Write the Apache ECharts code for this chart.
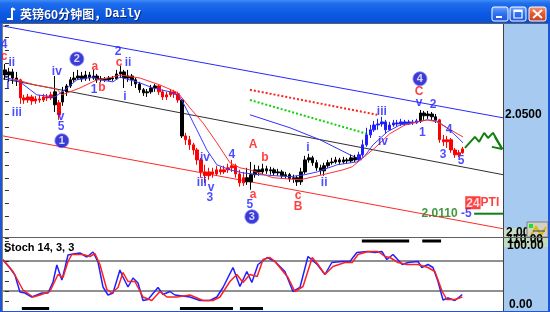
<!DOCTYPE html>
<html><head><meta charset="utf-8">
<script src="https://cdn.jsdelivr.net/npm/echarts@6.0.0/dist/echarts.min.js"></script>
<style>html,body{margin:0;padding:0;background:#1E56D6;}#c{width:550px;height:312px;}</style>
</head><body><div id="c"></div>
<script>
// ---------- DATA ----------
const hourSlots = Array.from({length:130}, (_, i) => 'H' + i);

const openP = [2.0674,2.0654,2.0666,2.0642,2.0635,2.0564,2.0556,2.0568,2.0552,2.0560,
2.0556,2.0568,2.0564,2.0588,2.0545,2.0548,2.0588,2.0611,2.0635,2.0642,
2.0650,2.0639,2.0654,2.0642,2.0650,2.0635,2.0639,2.0635,2.0642,2.0639,
2.0658,2.0666,2.0642,2.0650,2.0635,2.0619,2.0596,2.0584,2.0588,2.0603,
2.0611,2.0588,2.0568,2.0576,2.0588,2.0580,2.0556,2.0415,2.0400,2.0380,
2.0360,2.0321,2.0274,2.0259,2.0274,2.0266,2.0282,2.0274,2.0282,2.0290,
2.0298,2.0266,2.0231,2.0251,2.0235,2.0263,2.0282,2.0274,2.0286,2.0278,
2.0282,2.0270,2.0274,2.0259,2.0263,2.0247,2.0251,2.0235,2.0274,2.0321,
2.0329,2.0310,2.0290,2.0278,2.0298,2.0310,2.0313,2.0321,2.0313,2.0321,
2.0317,2.0329,2.0321,2.0341,2.0380,2.0419,2.0439,2.0458,2.0462,2.0470,
2.0439,2.0458,2.0466,2.0462,2.0470,2.0462,2.0470,2.0466,2.0474,2.0505,
2.0494,2.0501,2.0490,2.0478,2.0400,2.0392,2.0400,2.0360,2.0341,2.0349];
const closeP = [2.0654,2.0666,2.0642,2.0635,2.0564,2.0556,2.0568,2.0552,2.0560,2.0556,
2.0568,2.0564,2.0576,2.0537,2.0498,2.0588,2.0611,2.0635,2.0642,2.0650,
2.0639,2.0654,2.0642,2.0650,2.0635,2.0639,2.0635,2.0642,2.0639,2.0658,
2.0666,2.0642,2.0650,2.0635,2.0619,2.0596,2.0584,2.0588,2.0603,2.0611,
2.0588,2.0568,2.0576,2.0588,2.0580,2.0556,2.0415,2.0400,2.0380,2.0360,
2.0321,2.0274,2.0259,2.0274,2.0266,2.0282,2.0274,2.0282,2.0290,2.0298,
2.0266,2.0231,2.0251,2.0235,2.0263,2.0282,2.0274,2.0286,2.0278,2.0282,
2.0270,2.0274,2.0259,2.0263,2.0247,2.0251,2.0235,2.0274,2.0321,2.0329,
2.0310,2.0290,2.0278,2.0298,2.0310,2.0313,2.0321,2.0313,2.0321,2.0317,
2.0329,2.0321,2.0341,2.0380,2.0419,2.0439,2.0458,2.0462,2.0470,2.0439,
2.0458,2.0466,2.0462,2.0470,2.0462,2.0470,2.0466,2.0474,2.0505,2.0494,
2.0501,2.0490,2.0478,2.0400,2.0392,2.0400,2.0360,2.0341,2.0349,2.0364];
const lowP = [2.0635,2.0627,2.0619,2.0611,2.0541,2.0541,2.0545,2.0537,2.0541,2.0545,
2.0548,2.0552,2.0556,2.0509,2.0478,2.0533,2.0572,2.0603,2.0627,2.0635,
2.0627,2.0631,2.0631,2.0635,2.0623,2.0627,2.0627,2.0631,2.0631,2.0635,
2.0642,2.0603,2.0627,2.0611,2.0603,2.0584,2.0572,2.0568,2.0580,2.0588,
2.0576,2.0556,2.0556,2.0568,2.0564,2.0545,2.0407,2.0380,2.0360,2.0341,
2.0302,2.0251,2.0231,2.0243,2.0251,2.0259,2.0263,2.0266,2.0270,2.0274,
2.0251,2.0216,2.0219,2.0223,2.0204,2.0251,2.0259,2.0263,2.0266,2.0263,
2.0259,2.0259,2.0247,2.0247,2.0235,2.0231,2.0219,2.0223,2.0266,2.0310,
2.0298,2.0278,2.0263,2.0259,2.0290,2.0302,2.0306,2.0302,2.0306,2.0306,
2.0310,2.0313,2.0313,2.0333,2.0372,2.0407,2.0431,2.0439,2.0451,2.0423,
2.0435,2.0451,2.0451,2.0454,2.0454,2.0458,2.0458,2.0462,2.0466,2.0478,
2.0482,2.0478,2.0466,2.0388,2.0376,2.0368,2.0349,2.0329,2.0333,2.0345];
const highP = [2.0697,2.0682,2.0678,2.0666,2.0639,2.0576,2.0580,2.0576,2.0572,2.0576,
2.0580,2.0580,2.0588,2.0650,2.0556,2.0607,2.0619,2.0646,2.0666,2.0674,
2.0666,2.0670,2.0666,2.0674,2.0658,2.0650,2.0646,2.0650,2.0650,2.0674,
2.0690,2.0674,2.0674,2.0658,2.0642,2.0627,2.0603,2.0599,2.0615,2.0619,
2.0615,2.0596,2.0588,2.0599,2.0596,2.0588,2.0560,2.0427,2.0415,2.0388,
2.0368,2.0329,2.0302,2.0290,2.0290,2.0298,2.0294,2.0298,2.0306,2.0321,
2.0306,2.0282,2.0274,2.0290,2.0313,2.0302,2.0298,2.0306,2.0298,2.0294,
2.0290,2.0286,2.0282,2.0274,2.0270,2.0263,2.0259,2.0290,2.0337,2.0345,
2.0337,2.0321,2.0302,2.0310,2.0321,2.0329,2.0333,2.0329,2.0333,2.0329,
2.0341,2.0341,2.0353,2.0400,2.0447,2.0458,2.0474,2.0482,2.0490,2.0478,
2.0470,2.0478,2.0478,2.0482,2.0478,2.0478,2.0478,2.0482,2.0517,2.0513,
2.0513,2.0509,2.0501,2.0482,2.0419,2.0415,2.0407,2.0368,2.0360,2.0372];

// moving averages [bar, price]
const fastMA = [[0,2.0646],[3.9,2.0627],[8.3,2.0576],[13,2.0568],[15.6,2.0596],[18.7,2.0635],[22.9,2.0646],[24.7,2.0635],[28.1,2.0627],[29.9,2.0646],[35.1,2.0623],[38.5,2.0603],[42.9,2.0588],[45.5,2.0568],[47.3,2.0517],[49.9,2.0439],[52.5,2.0360],[55.1,2.0302],[58.5,2.0282],[61.9,2.0270],[66.3,2.0263],[74.1,2.0255],[78,2.0263],[81.2,2.0274],[86.4,2.0302],[91.5,2.0313],[93.6,2.0337],[95.7,2.0380],[99.4,2.0431],[102.7,2.0458],[107.1,2.0470],[109.8,2.0478],[112.3,2.0474],[114.9,2.0447],[117,2.0419],[119.1,2.0388]];
const slowMA = [[2.1,2.0639],[7.8,2.0615],[13.5,2.0599],[14.8,2.0576],[19.5,2.0603],[23.9,2.0635],[28.1,2.0646],[29.9,2.0654],[35.1,2.0642],[40.3,2.0615],[45,2.0584],[48.1,2.0525],[51.5,2.0466],[55.1,2.0388],[58.5,2.0310],[61.1,2.0290],[63.7,2.0282],[69.7,2.0251],[76.7,2.0243],[82.7,2.0263],[87.9,2.0282],[90.3,2.0294],[96.2,2.0368],[100,2.0423],[104,2.0458],[109.8,2.0478],[112.3,2.0470],[114.9,2.0447],[119.1,2.0411]];
const redLongMA = [[63.7,2.0596],[96.8,2.0498]];
const greenLongMA = [[63.7,2.0556],[94.2,2.0423]];
const blueLongMA = [[63.7,2.0498],[74.1,2.0447],[81.9,2.0400],[89.7,2.0341],[92.8,2.0321]];

// channel lines [bar, price]
const upperChannel = [[-0.5,2.0846],[129.5,2.0486]];
const midChannel = [[-0.5,2.0639],[129.5,2.0263]];
const lowerChannel = [[-0.5,2.0415],[129.5,2.0051]];

// projected path
const forecastPath = [[119.6,2.0368],[122.2,2.0411],[123.3,2.0392],[124.6,2.0427],[125.6,2.0407],[126.9,2.0427],[129.3,2.0364]];
const forecastArrow = [[126.6,2.0372],[129.3,2.0364],[127.4,2.0411]];
const targetPrice = 2.0110;
const targetFromBar = 122;

// wave labels [text, bar, price]
const blueWaveLabels = [['4',-0.2,2.0772],['i',0.8,2.0615],['ii',1.8,2.0701],['iii',3.1,2.0505],['iv',13.5,2.0666],['v',14.6,2.0490],['5',14.6,2.0451],['1',23.2,2.0596],['2',29.4,2.0744],['ii',32.0,2.0701],['i',31.2,2.0568],['iv',52.0,2.0329],['iii',51.2,2.0231],['v',53.6,2.0212],['3',53.3,2.0172],['4',59.0,2.0341],['5',63.7,2.0145],['i',78.8,2.0368],['ii',83.0,2.0231],['iii',98.0,2.0509],['iv',98.3,2.0392],['v',107.7,2.0545],['2',111.3,2.0537],['1',108.5,2.0427],['4',115.5,2.0439],['3',113.9,2.0341],['5',118.6,2.0317]];
const redWaveLabels = [['c',-0.2,2.0725],['a',23.4,2.0686],['b',25.2,2.0603],['c',29.7,2.0701],['A',64.5,2.0380],['b',67.6,2.0329],['a',64.5,2.0184],['c',76.2,2.0180],['B',76.2,2.0137],['C',107.7,2.0588]];
const circledWaves = [['1',14.8,2.0396],['2',18.7,2.0717],['3',64.2,2.0098],['4',107.9,2.0639]];

// stochastic [bar, value]
const stochK = [[-0.5,82],[1.3,66],[2.6,52],[3.9,18],[5.2,16],[7.0,8],[8.3,12],[9.6,16],[11.2,16],[12.5,38],[13.5,72],[14.8,42],[15.6,66],[16.4,92],[17.7,94],[19.5,96],[21.3,88],[22.9,98],[24.2,78],[25.5,28],[26.8,12],[28.1,16],[29.9,62],[30.7,48],[32.0,28],[33.3,46],[34.6,36],[35.9,1],[37.2,3],[39.8,27],[41.1,13],[42.9,19],[44.2,12],[48.1,8],[50.7,1],[53.3,1],[55.1,8],[56.7,27],[59.3,67],[61.1,29],[62.9,59],[64.2,37],[65.8,73],[68.2,87],[70.2,79],[72.8,59],[74.9,19],[76.7,27],[78.8,89],[81.2,73],[83.2,53],[85.0,77],[87.6,79],[89.7,79],[91.5,97],[94.2,99],[96.2,97],[98.0,99],[99.3,83],[100.9,93],[103.3,73],[104.8,77],[107.4,79],[108.4,67],[110.0,73],[111.3,67],[112.6,39],[113.9,2],[115.2,6],[117.0,1],[118.9,13]];
const stochD = [[-0.5,83],[2.1,59],[4.7,22],[7.3,8],[9.1,12],[11.7,19],[13.8,53],[15.1,47],[16.4,79],[17.4,93],[20.3,93],[22.1,89],[23.4,95],[24.7,73],[26.5,23],[27.8,16],[29.4,27],[30.7,57],[32.0,39],[33.8,39],[35.9,8],[38.2,1],[40.3,19],[42.1,8],[44.7,8],[48.1,12],[51.5,1],[54.1,1],[55.9,8],[58.5,39],[60.3,53],[61.9,37],[63.7,53],[65.6,49],[67.1,83],[68.9,87],[70.2,79],[73.6,47],[75.4,19],[77.5,29],[79.9,87],[81.4,73],[83.2,53],[85.3,69],[88.4,77],[90.3,77],[91.8,93],[94.4,99],[97.0,99],[98.8,89],[100.1,87],[102.2,77],[104.5,73],[107.4,73],[110.0,67],[111.8,59],[113.7,19],[114.9,3],[117.0,3],[118.9,8]];
const stochLevels = [80, 20];
const stochLowZones = [[4.4,11.5],[45.5,59.3],[61.1,67.1]];
const stochHighZones = [[92.8,105.1],[108.5,113.4]];

const priceTickLabel = '2.0500';
const stochTickLabels = ['110.00','100.00','0.00'];
const titleText = '英镑60分钟图，';
const titleSuffix = 'Daily';

// ---------- STYLE / BUILD ----------
const segColors = {k:'#000000', r:'#FF0000', b:'#1E1EFF'};
const waveSegments = [[0,3,'k'],[4,12,'r'],[13,13,'k'],[14,14,'r'],[15,39,'k'],[40,45,'r'],[46,46,'k'],[47,62,'r'],[63,91,'k'],[92,107,'b'],[108,112,'k'],[113,119,'r']];
function segColor(i){ for (const s of waveSegments) if (i>=s[0] && i<=s[1]) return segColors[s[2]]; return '#000'; }
const candleData = openP.map((o,i)=>{ const c = segColor(i); return {value:[o, closeP[i], lowP[i], highP[i]], itemStyle:{color:c, color0:c, borderColor:c, borderColor0:c}}; });

const FONT = 'Liberation Sans, Arial, sans-serif';
function ln(data, color, width, opts) {
  return Object.assign({type:'line', data, xAxisIndex:1, yAxisIndex:0, symbol:'none', showSymbol:false, silent:true,
    lineStyle:{color, width, type:'solid'}, z:3}, opts||{});
}
function lbl(list, color) {
  return {type:'scatter', xAxisIndex:1, yAxisIndex:0, symbolSize:1, silent:true, itemStyle:{color:'rgba(0,0,0,0)'}, z:6,
    data: list.map(d=>({name:d[0], value:[d[1], d[2]]})),
    label:{show:true, position:'inside', formatter:'{b}', color, fontSize:12, fontWeight:'bold', fontFamily:FONT}};
}

const series = [
  ln(upperChannel, '#2828FF', 1),
  ln(midChannel, '#303030', 1),
  ln(lowerChannel, '#FF2828', 1),
  ln(redLongMA, '#FF2020', 2, {lineStyle:{color:'#FF2020', width:2, type:'dotted'}}),
  ln(greenLongMA, '#10D010', 2, {lineStyle:{color:'#10D010', width:2, type:'dotted'}}),
  ln(blueLongMA, '#3030FF', 1),
  {type:'candlestick', xAxisIndex:0, yAxisIndex:0, data:candleData, barWidth:3, silent:true, z:4},
  ln(fastMA, '#3A3AFF', 1, {z:5}),
  ln(slowMA, '#FF3030', 1, {z:5}),
  ln(forecastPath, '#108010', 2),
  ln(forecastArrow, '#108010', 2),
  ln([[targetFromBar, targetPrice],[129.5, targetPrice]], '#108010', 2),
  lbl(blueWaveLabels, '#1E1EFF'),
  lbl(redWaveLabels, '#FF1010'),
  {type:'scatter', xAxisIndex:1, yAxisIndex:0, symbol:'circle', symbolSize:14, silent:true, z:7,
    itemStyle:{color:'#0A0ACC', borderColor:'#8080FF', borderWidth:1},
    data: circledWaves.map(d=>({name:d[0], value:[d[1], d[2]]})),
    label:{show:true, position:'inside', formatter:'{b}', color:'#fff', fontSize:11, fontWeight:'bold', fontFamily:FONT}},
  {type:'scatter', xAxisIndex:1, yAxisIndex:0, symbolSize:1, silent:true, itemStyle:{color:'rgba(0,0,0,0)'}, z:7,
    data:[{value:[targetFromBar, targetPrice]}],
    label:{show:true, position:'left', distance:2, formatter:()=>'{g|'+targetPrice.toFixed(4)+'} {b|-5}',
      rich:{g:{color:'#108010', fontSize:12, fontWeight:'bold', fontFamily:FONT}, b:{color:'#1E1EFF', fontSize:12, fontWeight:'bold', fontFamily:FONT}}}},
  {type:'scatter', xAxisIndex:1, yAxisIndex:0, symbolSize:1, silent:true, itemStyle:{color:'rgba(0,0,0,0)'}, z:7,
    data:[{value:[124.1, 2.0153]}],
    label:{show:true, position:'inside', formatter:'{a|24}{p|PTI}',
      rich:{a:{color:'#fff', backgroundColor:'#FF1010', fontSize:12, fontWeight:'bold', fontFamily:FONT, padding:[1,1,0,1]},
            p:{color:'#FF1010', fontSize:12, fontWeight:'bold', fontFamily:FONT}}}},
  // stochastic panel
  ...stochLevels.map(v=>({type:'line', xAxisIndex:3, yAxisIndex:1, symbol:'none', silent:true, data:[[-0.5,v],[129.5,v]], lineStyle:{color:'#202020', width:1}, z:2})),
  {type:'line', xAxisIndex:3, yAxisIndex:1, symbol:'none', silent:true, data:stochK, lineStyle:{color:'#2020FF', width:1.5}, z:3},
  {type:'line', xAxisIndex:3, yAxisIndex:1, symbol:'none', silent:true, data:stochD, lineStyle:{color:'#FF2020', width:1.5}, z:4},
  ...stochLowZones.map(z=>({type:'line', xAxisIndex:3, yAxisIndex:1, symbol:'none', silent:true, data:[[z[0],-15],[z[1],-15]], lineStyle:{color:'#000', width:3}, z:5})),
  ...stochHighZones.map(z=>({type:'line', xAxisIndex:3, yAxisIndex:1, symbol:'none', silent:true, data:[[z[0],120],[z[1],120]], lineStyle:{color:'#000', width:3}, z:5}))
];

const btnGrad = {type:'linear', x:0, y:0, x2:0, y2:1, colorStops:[{offset:0,color:'#6FA6FF'},{offset:0.5,color:'#2C6FF0'},{offset:1,color:'#1A55DD'}]};
const graphic = [
  // panels
  {type:'rect', shape:{x:3, y:24, width:500, height:213}, style:{fill:'#FFFFFF'}, z:-1, silent:true},
  {type:'rect', shape:{x:3, y:238, width:500, height:73}, style:{fill:'#FFFFFF'}, z:-1, silent:true},
  {type:'line', shape:{x1:503.5, y1:24, x2:503.5, y2:311}, style:{stroke:'#404040', lineWidth:1}, z:1, silent:true},
  {type:'line', shape:{x1:2.5, y1:23, x2:2.5, y2:311}, style:{stroke:'#808080', lineWidth:1}, z:1, silent:true},
  {type:'line', shape:{x1:2, y1:23.5, x2:548, y2:23.5}, style:{stroke:'#606060', lineWidth:1}, z:1, silent:true},
  {type:'line', shape:{x1:2, y1:237.5, x2:548, y2:237.5}, style:{stroke:'#606060', lineWidth:1}, z:8, silent:true},
  // 2.00 box
  {type:'rect', shape:{x:504, y:228, width:23, height:10}, style:{fill:'#C8DCC8'}, z:2, silent:true},
  {type:'text', x:506, y:233, style:{text:'2.00', fill:'#000', font:'bold 12px '+FONT, textVerticalAlign:'middle'}, z:3, silent:true},
  // icon bottom right
  {type:'rect', shape:{x:527, y:222, width:21, height:15}, style:{fill:'#D4D0C8', stroke:'#808080', lineWidth:1}, z:3, silent:true},
  {type:'rect', shape:{x:529, y:224, width:4, height:4}, style:{fill:'#20E020'}, z:4, silent:true},
  {type:'polyline', shape:{points:[[531,235],[536,227],[541,235],[546,227]]}, style:{stroke:'#D0C000', lineWidth:2, fill:null}, z:4, silent:true},
  {type:'polyline', shape:{points:[[533,231],[545,231]]}, style:{stroke:'#404040', lineWidth:1, fill:null}, z:4, silent:true},
  // stoch right header
  {type:'rect', shape:{x:504, y:238, width:44, height:9}, style:{fill:'#C0DCC0'}, z:4, silent:true},
  {type:'text', x:507, y:240, style:{text:stochTickLabels[0], fill:'#000', font:'bold 12px '+FONT, textVerticalAlign:'middle'}, z:5, silent:true},
  {type:'text', x:507, y:246, style:{text:stochTickLabels[1], fill:'#000', font:'bold 12px '+FONT, textVerticalAlign:'middle'}, z:5, silent:true},
  {type:'text', x:509, y:305, style:{text:stochTickLabels[2], fill:'#000', font:'bold 12px '+FONT, textVerticalAlign:'middle'}, z:5, silent:true},
  {type:'text', x:4, y:248, style:{text:'Stoch 14, 3, 3', fill:'#000', font:'bold 11px '+FONT, textVerticalAlign:'middle'}, z:5, silent:true},
  // frame
  {type:'rect', shape:{x:0, y:0, width:2, height:312}, style:{fill:'#1E56D6'}, z:9, silent:true},
  {type:'rect', shape:{x:548, y:0, width:2, height:312}, style:{fill:'#1E56D6'}, z:9, silent:true},
  {type:'rect', shape:{x:0, y:311, width:550, height:1}, style:{fill:'#1E56D6'}, z:9, silent:true},
  // title bar
  {type:'rect', shape:{x:0, y:0, width:550, height:23}, style:{fill:{type:'linear', x:0, y:0, x2:0, y2:1, colorStops:[{offset:0,color:'#3D8CF7'},{offset:0.15,color:'#1F6CEC'},{offset:0.6,color:'#0C5AE4'},{offset:1,color:'#0A4FD4'}]}}, z:10, silent:true},
  {type:'polyline', shape:{points:[[12,8],[12,19],[7,19]]}, style:{stroke:'#fff', lineWidth:2, fill:null}, z:11, silent:true},
  {type:'polyline', shape:{points:[[12,8],[15,10]]}, style:{stroke:'#fff', lineWidth:2, fill:null}, z:11, silent:true},
  {type:'text', x:21, y:15, style:{text:titleText, fill:'#0A2A80', font:'bold 12px "Noto Sans CJK SC"', textVerticalAlign:'middle'}, z:11, silent:true},
  {type:'text', x:20, y:14, style:{text:titleText, fill:'#FFFFFF', font:'bold 12px "Noto Sans CJK SC"', textVerticalAlign:'middle'}, z:12, silent:true},
  {type:'text', x:106, y:15, style:{text:titleSuffix, fill:'#0A2A80', font:'bold 12px "Liberation Mono"', textVerticalAlign:'middle'}, z:11, silent:true},
  {type:'text', x:105, y:14, style:{text:titleSuffix, fill:'#FFFFFF', font:'bold 12px "Liberation Mono"', textVerticalAlign:'middle'}, z:12, silent:true},
  // buttons
  {type:'rect', shape:{x:492, y:7, width:16, height:14, r:2}, style:{fill:btnGrad, stroke:'#fff', lineWidth:1}, z:11, silent:true},
  {type:'rect', shape:{x:496, y:16, width:6, height:2}, style:{fill:'#fff'}, z:12, silent:true},
  {type:'rect', shape:{x:510, y:7, width:16, height:14, r:2}, style:{fill:btnGrad, stroke:'#fff', lineWidth:1}, z:11, silent:true},
  {type:'rect', shape:{x:514, y:10, width:8, height:8}, style:{fill:null, stroke:'#fff', lineWidth:1.2}, z:12, silent:true},
  {type:'rect', shape:{x:514, y:10, width:8, height:2}, style:{fill:'#fff'}, z:12, silent:true},
  {type:'rect', shape:{x:529, y:7, width:17, height:14, r:2}, style:{fill:{type:'linear', x:0, y:0, x2:0, y2:1, colorStops:[{offset:0,color:'#F29A78'},{offset:0.5,color:'#E2572F'},{offset:1,color:'#C8401E'}]}, stroke:'#fff', lineWidth:1}, z:11, silent:true},
  {type:'polyline', shape:{points:[[533,10],[542,18]]}, style:{stroke:'#fff', lineWidth:2, fill:null}, z:12, silent:true},
  {type:'polyline', shape:{points:[[542,10],[533,18]]}, style:{stroke:'#fff', lineWidth:2, fill:null}, z:12, silent:true}
];

const chart = echarts.init(document.getElementById('c'), null, {renderer:'canvas'});
chart.setOption({
  animation:false,
  backgroundColor:'#A6CAF0',
  grid:[
    {left:3, top:25, width:500, height:204},
    {left:3, top:238, width:500, height:73}
  ],
  xAxis:[
    {type:'category', gridIndex:0, data:hourSlots, boundaryGap:true, show:false},
    {type:'value', gridIndex:0, min:-0.5, max:129.5, show:false},
    {type:'category', gridIndex:1, data:hourSlots, boundaryGap:true, show:false},
    {type:'value', gridIndex:1, min:-0.5, max:129.5, show:false}
  ],
  yAxis:[
    {type:'value', gridIndex:0, position:'right', min:2.005, max:2.085, interval:0.005,
      axisLine:{show:false}, splitLine:{show:false},
      axisTick:{show:true, length:4, lineStyle:{color:'#303030'}},
      axisLabel:{show:true, margin:2, color:'#000', fontSize:12, fontWeight:'bold', fontFamily:FONT,
        formatter:v=>Math.abs(v-2.05)<1e-7 ? priceTickLabel : ''}},
    {type:'value', gridIndex:1, position:'right', min:-20, max:126, interval:20,
      axisLine:{show:false}, splitLine:{show:false},
      axisTick:{show:true, length:4, lineStyle:{color:'#303030'}},
      axisLabel:{show:false}}
  ],
  graphic: graphic,
  series: series
});
</script></body></html>
